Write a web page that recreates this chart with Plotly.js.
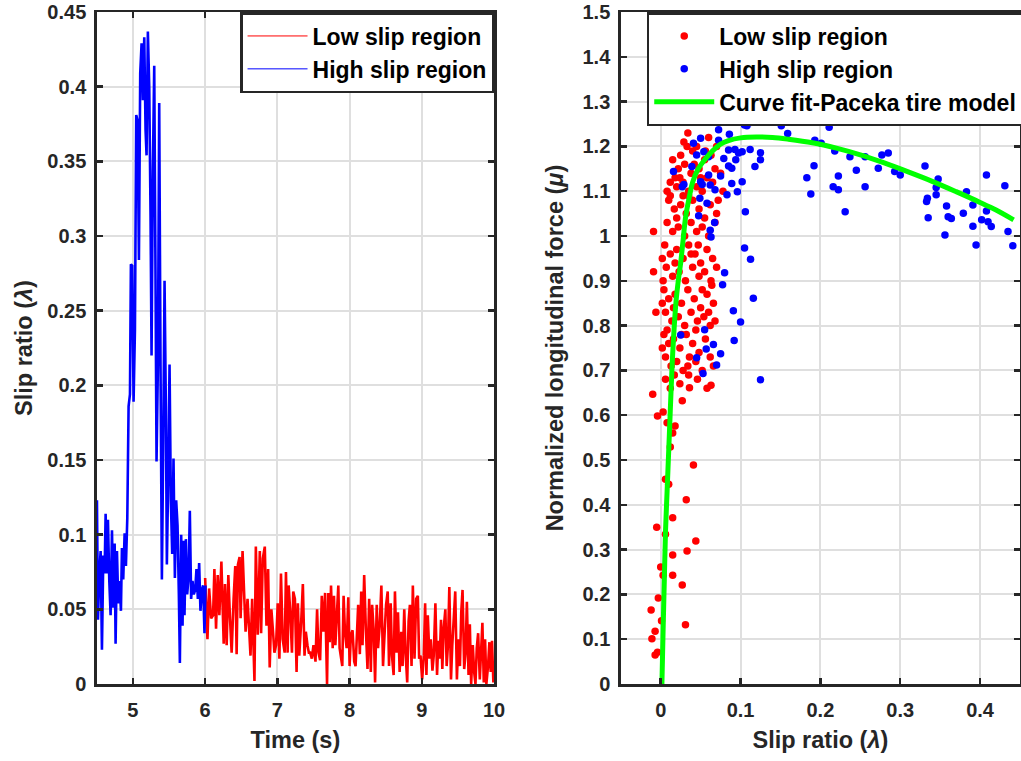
<!DOCTYPE html>
<html>
<head>
<meta charset="utf-8">
<script src="https://cdn.plot.ly/plotly-3.0.1.min.js"></script>
<style>
html,body{margin:0;padding:0;overflow:hidden;background:#fff;}
#chart{width:1024px;height:761px;}
</style>
</head>
<body>
<div id="chart"></div>
<script>
// ---------- Left panel: slip ratio vs time ----------
const highSlipTime = [4.502,4.516,4.535,4.553,4.571,4.590,4.608,4.622,4.641,4.654,4.673,4.691,4.710,4.728,4.747,4.760,4.779,4.797,4.816,4.834,4.848,4.866,4.885,4.903,4.922,4.940,4.959,4.972,4.991,5.009,5.028,5.046,5.065,5.083,5.101,5.120,5.138,5.157,5.175,5.189,5.207,5.226,5.244,5.258,5.276,5.295,5.313,5.327,5.346,5.364,5.382,5.401,5.419,5.438,5.456,5.470,5.488,5.507,5.525,5.544,5.562,5.581,5.599,5.618,5.636,5.650,5.668,5.687,5.700,5.714,5.733,5.751,5.770,5.788,5.806,5.825,5.843,5.862,5.880,5.899,5.917,5.935,5.954,5.972,5.991,6.005];
const highSlipValue = [0.123,0.043,0.074,0.089,0.023,0.086,0.074,0.114,0.074,0.110,0.069,0.046,0.103,0.051,0.094,0.027,0.089,0.054,0.069,0.049,0.091,0.070,0.101,0.079,0.111,0.186,0.194,0.281,0.280,0.189,0.237,0.381,0.377,0.284,0.409,0.429,0.391,0.433,0.371,0.354,0.437,0.400,0.314,0.220,0.343,0.414,0.271,0.149,0.214,0.389,0.214,0.070,0.157,0.270,0.186,0.080,0.137,0.214,0.123,0.087,0.151,0.071,0.123,0.106,0.060,0.014,0.100,0.039,0.096,0.046,0.097,0.060,0.071,0.116,0.057,0.069,0.060,0.063,0.077,0.057,0.081,0.049,0.063,0.066,0.034,0.066];

const lowSlipTime = [6.000,6.032,6.055,6.083,6.110,6.128,6.151,6.174,6.197,6.225,6.257,6.275,6.298,6.321,6.344,6.367,6.394,6.417,6.436,6.454,6.477,6.491,6.518,6.537,6.560,6.587,6.606,6.628,6.651,6.670,6.683,6.702,6.729,6.757,6.775,6.798,6.826,6.849,6.872,6.894,6.917,6.940,6.959,6.982,7.005,7.028,7.050,7.073,7.101,7.119,7.142,7.156,7.179,7.202,7.220,7.243,7.266,7.284,7.303,7.330,7.353,7.376,7.394,7.417,7.436,7.454,7.477,7.500,7.528,7.550,7.569,7.592,7.615,7.638,7.661,7.688,7.706,7.725,7.743,7.766,7.784,7.803,7.830,7.844,7.862,7.881,7.899,7.917,7.936,7.959,7.982,8.000,8.018,8.041,8.064,8.083,8.101,8.119,8.142,8.161,8.179,8.202,8.225,8.248,8.271,8.294,8.312,8.335,8.353,8.376,8.394,8.417,8.440,8.463,8.486,8.505,8.528,8.546,8.569,8.587,8.610,8.628,8.651,8.670,8.693,8.716,8.734,8.757,8.775,8.798,8.817,8.835,8.858,8.876,8.899,8.922,8.945,8.963,8.982,9.005,9.028,9.046,9.064,9.083,9.106,9.124,9.147,9.165,9.188,9.211,9.229,9.248,9.266,9.284,9.303,9.326,9.344,9.362,9.381,9.404,9.422,9.445,9.463,9.486,9.505,9.528,9.546,9.564,9.587,9.606,9.624,9.647,9.665,9.683,9.706,9.725,9.743,9.761,9.780,9.803,9.821,9.839,9.858,9.876,9.894,9.917,9.936,9.954,9.972,9.991];
const lowSlipValue = [0.071,0.030,0.064,0.044,0.046,0.077,0.037,0.073,0.046,0.082,0.027,0.067,0.026,0.073,0.044,0.021,0.057,0.079,0.020,0.080,0.085,0.044,0.089,0.064,0.035,0.057,0.040,0.019,0.057,0.021,0.002,0.092,0.033,0.089,0.034,0.084,0.092,0.039,0.077,0.011,0.050,0.035,0.021,0.026,0.054,0.017,0.074,0.030,0.021,0.075,0.021,0.066,0.048,0.021,0.062,0.057,0.008,0.054,0.019,0.042,0.067,0.019,0.035,0.026,0.021,0.021,0.017,0.026,0.015,0.050,0.021,0.016,0.059,0.035,0.061,0.000,0.061,0.028,0.066,0.024,0.059,0.026,0.055,0.066,0.024,0.019,0.012,0.059,0.035,0.024,0.058,0.012,0.033,0.036,0.015,0.012,0.038,0.053,0.020,0.062,0.026,0.073,0.037,0.010,0.057,0.008,0.053,0.035,0.001,0.053,0.024,0.039,0.066,0.012,0.035,0.053,0.062,0.012,0.054,0.019,0.006,0.062,0.021,0.048,0.008,0.035,0.012,0.050,0.021,0.001,0.042,0.053,0.012,0.066,0.017,0.057,0.059,0.017,0.019,0.003,0.019,0.054,0.006,0.046,0.017,0.030,0.009,0.019,0.054,0.006,0.029,0.017,0.043,0.010,0.037,0.050,0.012,0.026,0.065,0.003,0.026,0.048,0.062,0.003,0.030,0.012,0.048,0.063,0.010,0.021,0.055,0.006,0.040,0.000,0.026,0.008,0.000,0.024,0.034,0.003,0.021,0.041,0.001,0.030,0.000,0.012,0.028,0.008,0.029,0.001];

const timeTickVals = [5,6,7,8,9,10];
const timeTickText = ['5','6','7','8','9','10'];
const slipTickVals = [0,0.05,0.1,0.15,0.2,0.25,0.3,0.35,0.4,0.45];
const slipTickText = ['0','0.05','0.1','0.15','0.2','0.25','0.3','0.35','0.4','0.45'];

// ---------- Right panel: normalized force vs slip ratio ----------
const lowSlipLambda = [0.034,0.029,0.045,0.060,0.025,0.040,0.055,0.015,0.022,0.030,0.038,0.048,0.058,0.068,0.075,0.012,0.020,0.028,0.035,0.045,0.052,0.065,0.078,0.018,0.042,0.010,0.017,0.025,0.032,0.040,0.048,0.055,0.062,0.070,0.008,0.015,0.022,0.030,0.038,0.045,0.052,0.060,0.068,0.012,0.035,-0.009,0.005,0.012,0.020,0.028,0.035,0.043,0.050,0.058,0.065,0.007,0.015,0.023,0.031,0.040,0.048,0.055,0.063,0.070,-0.009,0.002,0.004,0.010,0.018,0.026,0.034,0.042,0.050,0.058,0.066,0.006,0.014,0.022,0.030,0.038,0.046,0.054,0.062,0.068,-0.006,0.002,0.064,0.004,0.010,0.016,0.024,0.032,0.040,0.048,0.056,0.062,0.006,0.013,0.020,0.028,0.036,0.044,0.052,0.066,0.008,0.002,0.006,0.012,0.024,0.035,0.046,0.058,0.017,0.063,0.036,0.027,-0.010,-0.004,0.003,0.008,0.018,0.015,0.012,0.041,0.006,0.010,0.032,0.015,-0.005,0.006,0.044,0.033,0.015,0.000,0.003,0.015,0.027,-0.003,-0.012,0.001,0.031,-0.007,-0.011,-0.004,-0.007,0.008,0.020,0.028,0.050,0.072,0.003,0.060,0.026,0.044,0.018,0.038,0.052,0.016,0.034,0.047,0.024,0.063,0.070,0.033,0.056];
const lowSlipMu = [1.23,1.21,1.20,1.22,1.18,1.19,1.17,1.17,1.15,1.16,1.14,1.15,1.13,1.15,1.14,1.12,1.11,1.12,1.10,1.11,1.10,1.12,1.10,1.13,1.16,1.08,1.06,1.07,1.05,1.08,1.06,1.04,1.07,1.05,1.03,1.01,1.02,1.00,1.03,1.01,1.02,1.00,1.03,1.09,1.09,1.01,0.98,0.96,0.97,0.95,0.98,0.96,0.94,0.97,0.95,0.93,0.91,0.92,0.90,0.93,0.91,0.92,0.90,0.93,0.92,0.95,0.88,0.86,0.87,0.85,0.88,0.86,0.84,0.87,0.85,0.83,0.81,0.82,0.80,0.83,0.81,0.82,0.80,0.81,0.83,0.85,0.89,0.78,0.76,0.77,0.75,0.78,0.76,0.74,0.77,0.73,0.73,0.71,0.72,0.70,0.73,0.72,0.70,0.71,0.79,0.75,0.68,0.66,0.67,0.69,0.68,0.66,0.69,0.667,0.661,0.632,0.647,0.598,0.607,0.583,0.576,0.560,0.529,0.489,0.457,0.446,0.411,0.371,0.350,0.334,0.319,0.297,0.288,0.261,0.243,0.243,0.221,0.192,0.165,0.141,0.132,0.118,0.101,0.071,0.065,1.10,1.04,1.09,1.13,1.08,0.90,0.83,0.78,0.79,0.94,0.96,0.88,0.84,0.71,0.98,1.13,1.18,1.20,1.20,1.19];

const highSlipLambda = [0.054,0.0725,0.082,0.084,0.105,0.111,0.123,0.154,0.151,0.186,0.195,0.211,0.159,0.193,0.201,0.218,0.237,0.256,0.2725,0.277,0.285,0.293,0.300,0.245,0.2225,0.183,0.188,0.216,0.2225,0.231,0.256,0.192,0.112,0.118,0.125,0.125,0.102,0.096,0.083,0.106,0.089,0.085,0.0975,0.331,0.3475,0.345,0.334,0.333,0.335,0.358,0.360,0.364,0.356,0.379,0.391,0.402,0.391,0.395,0.410,0.414,0.408,0.431,0.383,0.435,0.441,0.041,0.050,0.0725,0.054,0.060,0.045,0.039,0.016,0.027,0.050,0.060,0.062,0.068,0.049,0.058,0.0475,0.0675,0.062,0.105,0.1125,0.080,0.0775,0.116,0.408,0.345,0.063,0.029,0.052,0.075,0.085,0.086,0.093,0.102,0.108,0.094,0.079,0.089,0.091,0.100,0.092,0.055,0.025,0.066,0.057,0.075,0.045,0.070,0.053,0.125];
const highSlipMu = [1.261,1.237,1.277,1.275,1.248,1.253,1.261,1.272,1.246,1.268,1.274,1.243,1.229,1.214,1.207,1.190,1.177,1.177,1.151,1.181,1.185,1.144,1.136,1.147,1.134,1.130,1.094,1.110,1.103,1.054,1.110,1.157,1.193,1.155,1.186,1.170,1.121,1.099,1.092,1.054,1.117,1.192,1.185,1.156,1.127,1.092,1.084,1.077,1.041,1.067,1.043,1.039,1.002,1.051,1.069,1.036,1.022,0.980,1.032,1.021,1.136,1.112,1.099,1.010,0.978,1.207,1.218,1.214,1.188,1.177,1.181,1.155,1.144,1.110,1.121,1.136,1.114,1.103,1.084,1.073,1.045,1.030,1.013,0.973,0.948,0.918,0.891,0.861,1.056,1.108,0.998,1.115,1.115,1.134,1.156,1.227,1.193,1.188,1.246,1.170,1.173,1.151,0.833,0.808,0.767,0.791,0.779,0.758,0.748,0.737,0.728,0.712,0.693,0.679];

const fitLambda = [0.0015,0.003,0.0045,0.006,0.008,0.010,0.012,0.014,0.016,0.019,0.022,0.025,0.028,0.031,0.035,0.040,0.047,0.055,0.065,0.075,0.085,0.100,0.120,0.140,0.160,0.190,0.220,0.250,0.280,0.310,0.340,0.370,0.400,0.420,0.442];
const fitMu = [0.00,0.12,0.23,0.34,0.43,0.52,0.61,0.70,0.77,0.85,0.90,0.94,0.99,1.04,1.08,1.12,1.15,1.17,1.19,1.205,1.213,1.219,1.221,1.220,1.216,1.208,1.196,1.181,1.163,1.143,1.122,1.099,1.075,1.058,1.036];

const lambdaTickVals = [0,0.1,0.2,0.3,0.4];
const lambdaTickText = ['0','0.1','0.2','0.3','0.4'];
const muTickVals = [0,0.1,0.2,0.3,0.4,0.5,0.6,0.7,0.8,0.9,1,1.1,1.2,1.3,1.4,1.5];
const muTickText = ['0','0.1','0.2','0.3','0.4','0.5','0.6','0.7','0.8','0.9','1','1.1','1.2','1.3','1.4','1.5'];

// ---------- styling ----------
const FONT = 'Liberation Sans, Arial, Helvetica, sans-serif';
const AX = '#262626';
function axisStyle(extra){
  return Object.assign({
    showline:true, linecolor:AX, linewidth:2.5, mirror:'ticks',
    ticks:'inside', ticklen:6, tickwidth:2.5, tickcolor:AX,
    showgrid:true, gridcolor:'#dfdfdf', gridwidth:2, zeroline:false,
    tickmode:'array',
    tickfont:{family:FONT, size:20, weight:'bold', color:AX},
    fixedrange:true
  }, extra);
}
const titleFont = {family:FONT, size:23.5, weight:'bold', color:AX};
const legendFont = {family:FONT, size:23, weight:'bold', color:'#000000'};

const traces = [
  // data traces (left)
  {x:lowSlipTime, y:lowSlipValue, type:'scatter', mode:'lines', showlegend:false,
   line:{color:'#ff0000', width:2.6}, xaxis:'x', yaxis:'y'},
  {x:highSlipTime, y:highSlipValue, type:'scatter', mode:'lines', showlegend:false,
   line:{color:'#0000ff', width:2.6}, xaxis:'x', yaxis:'y'},
  // legend entries (left) – thin line samples as in the original
  {x:[null], y:[null], type:'scatter', mode:'lines', name:'Low slip region',
   line:{color:'#ff0000', width:1}, xaxis:'x', yaxis:'y', legend:'legend'},
  {x:[null], y:[null], type:'scatter', mode:'lines', name:'High slip region',
   line:{color:'#0000ff', width:1}, xaxis:'x', yaxis:'y', legend:'legend'},
  // right panel
  {x:lowSlipLambda, y:lowSlipMu, type:'scatter', mode:'markers', name:'Low slip region',
   marker:{color:'#ff0000', size:7.5}, xaxis:'x2', yaxis:'y2', legend:'legend2'},
  {x:highSlipLambda, y:highSlipMu, type:'scatter', mode:'markers', name:'High slip region',
   marker:{color:'#0000ff', size:7.5}, xaxis:'x2', yaxis:'y2', legend:'legend2'},
  {x:fitLambda, y:fitMu, type:'scatter', mode:'lines', name:'Curve fit-Paceka tire model',
   line:{color:'#00ff00', width:5, shape:'spline'}, xaxis:'x2', yaxis:'y2', legend:'legend2'}
];

const W = 1024, H = 761;
const layout = {
  width:W, height:H,
  margin:{l:0, r:0, t:12, b:77, pad:0},
  paper_bgcolor:'#ffffff', plot_bgcolor:'#ffffff',
  font:{family:FONT, size:20, color:AX},
  showlegend:true,
  xaxis: axisStyle({domain:[97/W, 495/W], range:[4.5,10], tickvals:timeTickVals, ticktext:timeTickText,
    anchor:'y', ticklabelstandoff:6,
    title:{text:'Time (s)', standoff:12, font:titleFont}}),
  yaxis: axisStyle({range:[0,0.45], tickvals:slipTickVals, ticktext:slipTickText, anchor:'x',
    ticklabelstandoff:4,
    title:{text:'Slip ratio (<i>λ</i>)', standoff:8, font:titleFont}}),
  xaxis2: axisStyle({domain:[622/W, 1022/W], range:[-0.05,0.45], tickvals:lambdaTickVals, ticktext:lambdaTickText,
    anchor:'y2', ticklabelstandoff:6,
    title:{text:'Slip ratio (<i>λ</i>)', standoff:12, font:titleFont}}),
  yaxis2: axisStyle({range:[0,1.5], tickvals:muTickVals, ticktext:muTickText, anchor:'x2',
    ticklabelstandoff:4,
    title:{text:'Normalized longitudinal force (<i>μ</i>)', standoff:12, font:titleFont}}),
  legend:{x:495/W, xanchor:'right', y:1, yanchor:'top', bgcolor:'#ffffff', bordercolor:AX, borderwidth:2.5,
    font:legendFont, itemwidth:60, tracegroupgap:0},
  legend2:{x:648/W, xanchor:'left', y:1, yanchor:'top', bgcolor:'#ffffff', bordercolor:AX, borderwidth:2.5,
    font:legendFont, itemwidth:60, tracegroupgap:0}
};

Plotly.newPlot('chart', traces, layout, {displayModeBar:false, staticPlot:true});
</script>
</body>
</html>
